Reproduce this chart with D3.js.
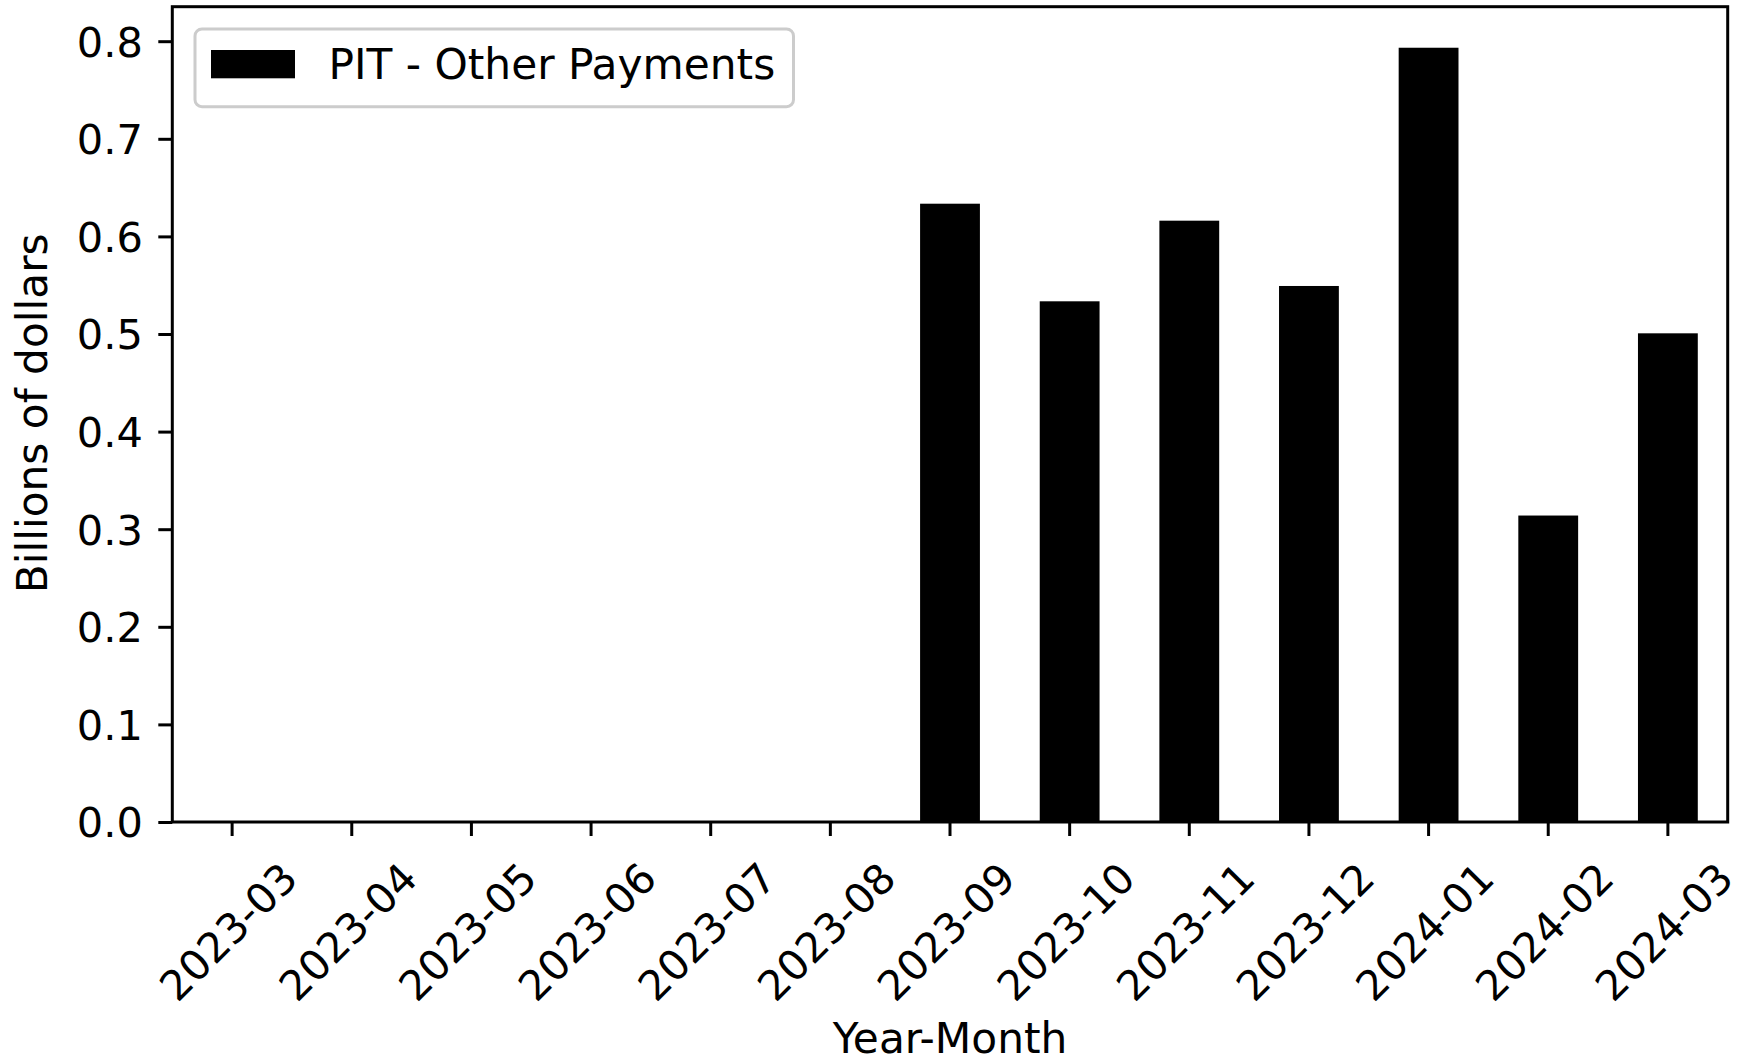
<!DOCTYPE html>
<html>
<head>
<meta charset="utf-8">
<script src="https://cdn.jsdelivr.net/npm/d3@7"></script>
<style>
  html, body { margin: 0; padding: 0; background: #fff; }
  svg { display: block; }
  text { font-family: "DejaVu Sans", sans-serif; fill: #000; }
</style>
</head>
<body>
<script>
// ---- Data ----
const categories = ["2023-03","2023-04","2023-05","2023-06","2023-07","2023-08","2023-09","2023-10","2023-11","2023-12","2024-01","2024-02","2024-03"];
const values = [0, 0, 0, 0, 0, 0, 0.6335, 0.5335, 0.6161, 0.5492, 0.7933, 0.3140, 0.5007];
const yTicks = [0.0, 0.1, 0.2, 0.3, 0.4, 0.5, 0.6, 0.7, 0.8];
const seriesName = "PIT - Other Payments";
const xLabel = "Year-Month";
const yLabel = "Billions of dollars";

(function () {
// ---- Layout ----
const W = 1745, H = 1063;
const pL = 172.3, pR = 1727.7, pT = 6.7, pB = 822;
const fontSize = 41.5;
const labelSize = 42.3;
const lw = 3;

const svg = d3.select("body").append("svg").attr("width", W).attr("height", H);

const x = d3.scaleBand().domain(categories).range([pL, pR]).paddingInner(0.5).paddingOuter(0.25);
const y = d3.scaleLinear().domain([0, d3.max(values) * 1.053]).range([pB, pT]);

// Bars
svg.append("g").selectAll("rect").data(categories.map((c, i) => ({c, v: values[i]})))
  .join("rect")
  .attr("x", d => x(d.c))
  .attr("width", x.bandwidth())
  .attr("y", d => y(d.v))
  .attr("height", d => y(0) - y(d.v))
  .attr("fill", "#000");

// X axis
const xAxis = svg.append("g").attr("transform", `translate(0,${pB})`)
  .call(d3.axisBottom(x).tickSize(14).tickPadding(0).tickFormat(""));
xAxis.select(".domain").remove();
xAxis.selectAll(".tick line").attr("stroke", "#000").attr("stroke-width", lw);
xAxis.selectAll(".tick text").remove();
xAxis.selectAll(".tick").append("text")
  .attr("transform", "translate(-4,109.5) rotate(-45)")
  .attr("text-anchor", "middle")
  .attr("dy", "0.36em")
  .attr("font-size", fontSize)
  .text(d => d);

// Y axis
const yAxis = svg.append("g").attr("transform", `translate(${pL},0)`)
  .call(d3.axisLeft(y).tickValues(yTicks).tickSize(14).tickPadding(0).tickFormat(""));
yAxis.select(".domain").remove();
yAxis.selectAll(".tick line").attr("stroke", "#000").attr("stroke-width", lw);
yAxis.selectAll(".tick text").remove();
yAxis.selectAll(".tick").append("text")
  .attr("x", -29.5)
  .attr("dy", "0.36em")
  .attr("text-anchor", "end")
  .attr("font-size", fontSize)
  .text(d => d3.format(".1f")(d));

// Frame
svg.append("rect")
  .attr("x", pL).attr("y", pT)
  .attr("width", pR - pL).attr("height", pB - pT)
  .attr("fill", "none").attr("stroke", "#000").attr("stroke-width", lw)
  .attr("stroke-linecap", "square");

// Axis labels
svg.append("text")
  .attr("x", (pL + pR) / 2).attr("y", 1053)
  .attr("text-anchor", "middle").attr("font-size", labelSize)
  .text(xLabel);
svg.append("text")
  .attr("transform", `translate(46.7,${(pT + pB) / 2 - 1}) rotate(-90)`)
  .attr("text-anchor", "middle").attr("font-size", labelSize)
  .text(yLabel);

// Legend
const lg = svg.append("g");
lg.append("rect")
  .attr("x", 195).attr("y", 29).attr("width", 598.5).attr("height", 77.7)
  .attr("rx", 7).attr("ry", 7)
  .attr("fill", "#fff").attr("fill-opacity", 0.8)
  .attr("stroke", "#cccccc").attr("stroke-width", lw);
lg.append("rect")
  .attr("x", 211).attr("y", 50).attr("width", 84).attr("height", 28.3)
  .attr("fill", "#000");
lg.append("text")
  .attr("x", 328.5).attr("y", 79)
  .attr("font-size", labelSize)
  .text(seriesName);
})();
</script>
</body>
</html>
